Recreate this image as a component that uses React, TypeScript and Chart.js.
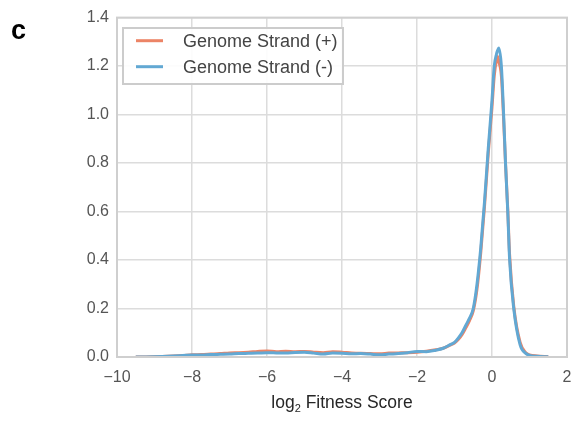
import React, { useEffect, useRef } from "react";
import { Chart, registerables } from "chart.js";

Chart.register(...registerables);

const FONT = "'Liberation Sans', Arial, Helvetica, sans-serif";

// shared x grid (log2 fitness score)
const xValues = [
  -9.5, -9.0, -8.5, -8.25, -8.0, -7.75, -7.5, -7.25, -7.0, -6.75, -6.5, -6.25,
  -6.0, -5.75, -5.5, -5.25, -5.0, -4.75, -4.5, -4.25, -4.0, -3.75, -3.5, -3.25,
  -3.0, -2.75, -2.5, -2.25, -2.0, -1.75, -1.5, -1.3, -1.1, -1.0, -0.9, -0.8,
  -0.7, -0.6, -0.5, -0.4, -0.3, -0.2, -0.1, 0.0, 0.06, 0.12, 0.15, 0.18, 0.25,
  0.31, 0.36, 0.42, 0.47, 0.58, 0.75, 0.9, 1.0, 1.2, 1.5,
];

const plusStrand = [
  0.0, 0.001, 0.004, 0.006, 0.009, 0.01, 0.012, 0.014, 0.017, 0.018, 0.02, 0.023,
  0.025, 0.022, 0.024, 0.022, 0.023, 0.02, 0.018, 0.022, 0.02, 0.017, 0.015, 0.014,
  0.013, 0.016, 0.017, 0.018, 0.02, 0.024, 0.03, 0.036, 0.05, 0.058, 0.072, 0.092,
  0.12, 0.15, 0.19, 0.28, 0.43, 0.62, 0.84, 1.03, 1.16, 1.225, 1.24, 1.22, 1.16,
  0.98, 0.8, 0.61, 0.42, 0.21, 0.06, 0.018, 0.009, 0.004, 0.001,
];

const minusStrand = [
  0.0, 0.001, 0.004, 0.006, 0.008, 0.008, 0.01, 0.011, 0.012, 0.014, 0.015, 0.016,
  0.018, 0.017, 0.016, 0.019, 0.02, 0.016, 0.012, 0.016, 0.015, 0.013, 0.014, 0.012,
  0.009, 0.012, 0.014, 0.018, 0.023, 0.022, 0.028, 0.036, 0.052, 0.06, 0.078, 0.1,
  0.13, 0.16, 0.2, 0.3, 0.45, 0.64, 0.86, 1.06, 1.2, 1.25, 1.265, 1.275, 1.2,
  1.0, 0.8, 0.6, 0.4, 0.2, 0.05, 0.015, 0.007, 0.003, 0.001,
];

const seriesNames = ["Genome Strand (+)", "Genome Strand (-)"];
const seriesColors = ["#ec8466", "#62a8d3"];

const xTicks = [-10, -8, -6, -4, -2, 0, 2];
const yTicks = [0, 0.2, 0.4, 0.6, 0.8, 1.0, 1.2, 1.4];
const panelLabel = "c";

const overlayPlugin = {
  id: "overlay",
  afterDraw(chart: any) {
    const ctx = chart.ctx as CanvasRenderingContext2D;
    const a = chart.chartArea;
    ctx.save();
    // frame
    ctx.strokeStyle = "#cfcfcf";
    ctx.lineWidth = 2;
    ctx.strokeRect(a.left, a.top, a.right - a.left, a.bottom - a.top);

    // legend box
    const lx = 123, ly = 28, lw = 220, lh = 56;
    ctx.fillStyle = "rgba(255,255,255,0.9)";
    ctx.fillRect(lx, ly, lw, lh);
    ctx.strokeStyle = "#cccccc";
    ctx.lineWidth = 2;
    ctx.strokeRect(lx, ly, lw, lh);
    const rows = [40.7, 66.7];
    ctx.font = `18px ${FONT}`;
    ctx.textBaseline = "middle";
    ctx.textAlign = "left";
    seriesNames.forEach((name, i) => {
      ctx.strokeStyle = seriesColors[i];
      ctx.lineWidth = 3;
      ctx.beginPath();
      ctx.moveTo(136, rows[i]);
      ctx.lineTo(163, rows[i]);
      ctx.stroke();
      ctx.fillStyle = "#444444";
      ctx.fillText(name, 183, rows[i] + 1);
    });

    // axis title with subscript
    const cx = (a.left + a.right) / 2;
    const base = 408;
    const bigFont = `17.5px ${FONT}`;
    const smallFont = `11px ${FONT}`;
    ctx.font = bigFont;
    const wLog = ctx.measureText("log").width;
    const wRest = ctx.measureText(" Fitness Score").width;
    ctx.font = smallFont;
    const wSub = ctx.measureText("2").width;
    const total = wLog + wSub + wRest;
    let x = cx - total / 2;
    ctx.fillStyle = "#262626";
    ctx.textBaseline = "alphabetic";
    ctx.font = bigFont;
    ctx.fillText("log", x, base);
    x += wLog;
    ctx.font = smallFont;
    ctx.fillText("2", x, base + 4);
    x += wSub;
    ctx.font = bigFont;
    ctx.fillText(" Fitness Score", x, base);

    // panel label
    ctx.font = `bold 27px ${FONT}`;
    ctx.fillStyle = "#000000";
    ctx.fillText(panelLabel, 11, 38.5);
    ctx.restore();
  },
};

export default function App() {
  const ref = useRef<HTMLCanvasElement | null>(null);

  useEffect(() => {
    if (!ref.current) return;
    const mk = (vals: number[]) => xValues.map((x, i) => ({ x, y: vals[i] }));
    const chart = new Chart(ref.current, {
      type: "line",
      data: {
        datasets: [
          {
            label: seriesNames[0],
            data: mk(plusStrand),
            borderColor: seriesColors[0],
            borderWidth: 3,
            pointRadius: 0,
            cubicInterpolationMode: "monotone",
            order: 1,
          },
          {
            label: seriesNames[1],
            data: mk(minusStrand),
            borderColor: seriesColors[1],
            borderWidth: 3,
            pointRadius: 0,
            cubicInterpolationMode: "monotone",
            order: 0,
          },
        ],
      },
      options: {
        animation: false,
        responsive: false,
        maintainAspectRatio: false,
        layout: { padding: { top: 17, right: 9, left: 0, bottom: 0 } },
        plugins: {
          legend: { display: false },
          tooltip: { enabled: false },
        },
        scales: {
          x: {
            type: "linear",
            min: -10,
            max: 2,
            afterBuildTicks: (s: any) => {
              s.ticks = xTicks.map((v) => ({ value: v }));
            },
            afterFit: (s: any) => {
              s.height = 64;
              s.paddingLeft = 0;
              s.paddingRight = 0;
            },
            grid: { color: "#dcdcdc", lineWidth: 1.5, drawTicks: false },
            border: { display: false },
            ticks: {
              padding: 11,
              color: "#555555",
              font: { family: FONT, size: 16 },
              callback: (v: any) => (v < 0 ? "\u2212" + Math.abs(v) : String(v)),
            },
          },
          y: {
            type: "linear",
            min: 0,
            max: 1.4,
            afterBuildTicks: (s: any) => {
              s.ticks = yTicks.map((v) => ({ value: v }));
            },
            afterFit: (s: any) => {
              s.width = 117;
            },
            grid: { color: "#dcdcdc", lineWidth: 1.5, drawTicks: false },
            border: { display: false },
            ticks: {
              padding: 8,
              color: "#555555",
              font: { family: FONT, size: 16 },
              callback: (v: any) => Number(v).toFixed(1),
            },
          },
        },
      },
      plugins: [overlayPlugin],
    } as any);
    return () => chart.destroy();
  }, []);

  return (
    <div style={{ position: "absolute", left: 0, top: 0, width: 576, height: 421, background: "#fff" }}>
      <canvas ref={ref} width={576} height={421} style={{ display: "block" }} />
    </div>
  );
}
